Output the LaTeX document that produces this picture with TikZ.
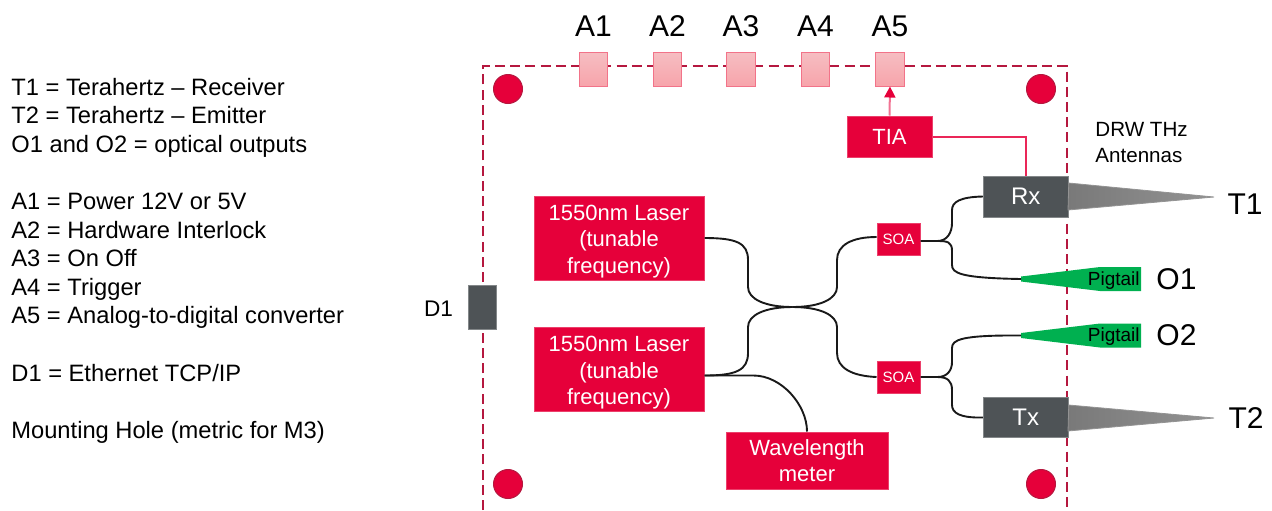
\documentclass[tikz,border=0pt]{standalone}
\usepackage{fontspec}
\setmainfont{Liberation Sans}
\usetikzlibrary{arrows.meta, positioning, calc}
\definecolor{dwred}{HTML}{E6003A}
\definecolor{dwdash}{HTML}{B5183F}
\definecolor{dwpink}{HTML}{F7A4AB}
\definecolor{dwpinktop}{HTML}{F6BEC2}
\definecolor{dwdark}{HTML}{4E5356}
\definecolor{dwgreen}{HTML}{00B050}
\begin{document}
\begin{tikzpicture}[
    x=0.5pt, y=-0.5pt,
    font=\fontsize{11}{13.2}\selectfont,
    redbox/.style={rectangle, draw=dwred!75!white, line width=0.5pt, fill=dwred, text=white, align=center, inner sep=0pt},
    laser/.style={redbox, minimum width=85pt, minimum height=42pt},
    soa/.style={redbox, minimum width=21.5pt, minimum height=16pt, font=\fontsize{7.5}{9}\selectfont},
    darkbox/.style={rectangle, draw=dwdark!70!white, line width=0.5pt, fill=dwdark, text=white, inner sep=0pt},
    pin/.style={rectangle, draw=dwpink!70!dwred, line width=0.5pt, top color=dwpinktop, bottom color=dwpink, minimum height=17pt, inner sep=0pt},
    hole/.style={circle, draw=dwdash, line width=0.5pt, fill=dwred, minimum size=14.5pt, inner sep=0pt},
    lab/.style={font=\fontsize{15}{18}\selectfont, text=black, inner sep=0pt},
    fibre/.style={draw=black!90, line width=0.95pt},
    wire/.style={draw=dwred!85!white, line width=1pt},
    frame/.style={draw=dwdash, line width=1.05pt, dash pattern=on 5pt off 2.6pt},
    horn/.style={draw=gray!85, line width=0.4pt, left color=gray!95!black, right color=gray!85},
    tail/.style={fill=dwgreen},
  ]
  \useasboundingbox (0,0) rectangle (1272,510);
  % ------------------------------------------------------------------ key on the left
  \node[anchor=north west, align=left, inner sep=0pt, font=\fontsize{11.85}{14.3}\selectfont] (key) at (11,77.5) {%
    T1 = Terahertz -- Receiver\\
    T2 = Terahertz -- Emitter\\
    O1 and O2 = optical outputs\\[14.3pt]
    A1 = Power 12V or 5V\\
    A2 = Hardware Interlock\\
    A3 = On Off\\
    A4 = Trigger\\
    A5 = Analog-to-digital converter\\[14.3pt]
    D1 = Ethernet TCP/IP\\[14.3pt]
    Mounting Hole (metric for M3)};
  % ------------------------------------------------------------------ housing, open at the bottom
  \coordinate (frameL) at (483,510);
  \coordinate (frameR) at (1067,510);
  \draw[frame] (frameL) -- (483,66) -- (1067,66) -- (frameR);
  \foreach \k/\x/\y in {1/508/89,2/1041/89,3/508/484,4/1041/484} {
    \node[hole] (hole\k) at (\x,\y) {};
  }
  \foreach \k/\x in {1/593.5,2/667.5,3/741,4/815.5,5/890} {
    \node[pin, minimum width=14.2pt] (a\k) at (\x,69) {};
    \node[lab] (alab\k) at (\x,26) {A\k};
  }
  \node[darkbox, minimum width=14pt, minimum height=22pt] (D) at (482,307) {};
  \node[font=\fontsize{11.3}{13}\selectfont, inner sep=0pt] (Dlab) at (438.5,309) {D1};
  % ------------------------------------------------------------------ lasers, coupler, amplifiers
  \node[laser] (laserA) at (619,238) {\rule{0pt}{11pt}1550nm Laser\\(tunable\\frequency)};
  \node[laser] (laserB) at (619,369.5) {\rule{0pt}{11pt}1550nm Laser\\(tunable\\frequency)};
  \node[redbox, minimum width=81pt, minimum height=28.5pt] (meter) at (807,460.5) {Wavelength\\meter};
  \node[soa] (soaA) at (898.5,239) {SOA};
  \node[soa] (soaB) at (898.5,377) {SOA};
  \coordinate (cpl) at (792.5,307);
  \draw[fibre] (laserA.east) .. controls +(32,0) and (748,243) .. (748,260) -- (748,287) .. controls (748,299) and (765,307) .. (cpl);
  \draw[fibre] ([yshift=-3pt]laserB.east) .. controls +(32,0) and (748,370) .. (748,353) -- (748,327) .. controls (748,315) and (765,307) .. (cpl);
  \draw[fibre] (cpl) .. controls (820,307) and (837,299) .. (837,287) -- (837,260) .. controls (837,245) and (852,237) .. ([yshift=1pt]soaA.west);
  \draw[fibre] (cpl) .. controls (820,307) and (837,315) .. (837,327) -- (837,353) .. controls (837,368) and (852,376) .. (soaB.west);
  \draw[fibre] ([yshift=-3pt]laserB.east) -- +(49,0) .. controls +(28,0) and (807,405) .. (meter.north);
  % ------------------------------------------------------------------ TIA and the receiver
  \node[redbox, minimum width=42.5pt, minimum height=20.5pt] (TIA) at (889.5,136.5) {TIA};
  \node[darkbox, minimum width=42.5pt, minimum height=20.5pt, font=\fontsize{12}{14}\selectfont] (Rx) at (1025.75,196.5) {Rx};
  \node[darkbox, minimum width=42.5pt, minimum height=20pt, font=\fontsize{12}{14}\selectfont] (Tx) at (1025.75,417.5) {Tx};
  \draw[wire, draw=dwred!55!white, -{Triangle[length=5.5pt, width=5.5pt, color=dwred]}] (TIA.north) -- (a5.south);
  \draw[wire] (TIA.east) -| (Rx.north);
  % ------------------------------------------------------------------ antennas and pigtails
  \coordinate (tipT) at (1214,197);
  \coordinate (tipB) at (1214,418);
  \draw[horn] (Rx.east) ++(0,-13.5) -- (tipT) -- ++(-146,13) -- cycle;
  \draw[horn] (Tx.east) ++(0,-12.5) -- (tipB) -- ++(-146,13) -- cycle;
  \node[lab] (T1) at (1245,204) {T1};
  \node[lab] (T2) at (1246,418) {T2};
  \node[anchor=north west, align=left, inner sep=0pt, font=\fontsize{10.3}{13}\selectfont] (drw) at (1095,122) {DRW THz\\Antennas};
  \foreach \k/\y in {1/279,2/335.5} {
    \coordinate (tail\k) at (1021,\y);
    \fill[tail] (1021,\y-2.5) -- (1100,\y-12) -- (1141,\y-12) -- (1141,\y+12) -- (1100,\y+12) -- (1021,\y+2.5) -- cycle;
    \node[anchor=east, inner sep=0pt, font=\fontsize{9.5}{11}\selectfont] (ptl\k) at (1140,\y+1.5) {Pigtail};
    \node[lab, anchor=west] (O\k) at (1156,\y) {O\k};
  }
  \draw[fibre] ([yshift=-1pt]soaA.east) -- +(17,0) coordinate (forkA) .. controls +(10,0) and (952,232) .. (952,223) -- (952,210) .. controls (952,202) and (960,197) .. (Rx.west);
  \draw[fibre] (forkA) .. controls +(10,0) and (952,242) .. (952,251) -- (952,265) .. controls (952,273) and (960,278) .. (tail1);
  \draw[fibre] (soaB.east) -- +(17,0) coordinate (forkB) .. controls +(10,0) and (952,370) .. (952,362) -- (952,348) .. controls (952,340) and (960,335) .. (tail2);
  \draw[fibre] (forkB) .. controls +(10,0) and (952,381) .. (952,390) -- (952,405) .. controls (952,413) and (960,418) .. (Tx.west);
\end{tikzpicture}
\end{document}
